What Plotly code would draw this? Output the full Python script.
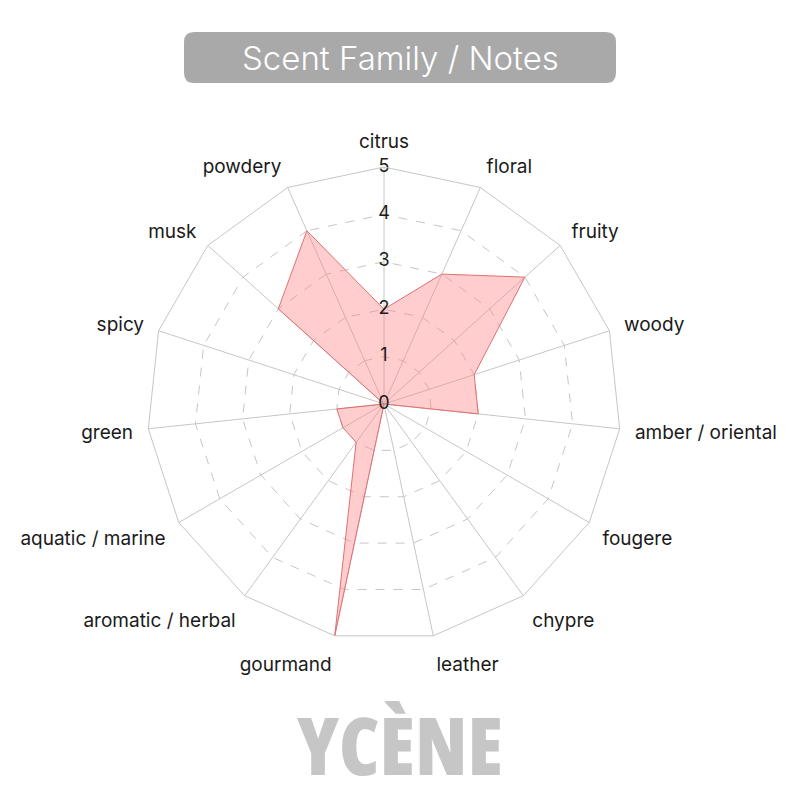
import plotly.graph_objects as go

categories = ["citrus", "floral", "fruity", "woody", "amber / oriental",
              "fougere", "chypre", "leather", "gourmand", "aromatic / herbal",
              "aquatic / marine", "green", "spicy", "musk", "powdery"]
scores = [2, 3, 4, 2, 2, 0, 0, 0, 5, 1, 1, 1, 0, 3, 4]
tick_values = [0, 1, 2, 3, 4, 5]
title_text = "Scent Family / Notes"
brand = "YCÈNE"

FONT = "Inter"
GRID = "#c6c6c6"
DOMAIN = dict(x=[0.17375, 0.76625], y=[0.20875, 0.80125])  # body has an 8px offset

fig = go.Figure()

# filled profile, closed back to the first category
fig.add_trace(go.Scatterpolar(
    r=scores + scores[:1],
    theta=categories + categories[:1],
    mode="lines",
    fill="toself",
    fillcolor="rgba(255, 130, 130, 0.4)",
    line=dict(color="#e07070", width=1),
    hoverinfo="skip",
))

# radial numbers sit right on the citrus spoke (1..5 unclipped so "5" isn't cut)
fig.add_trace(go.Scatterpolar(
    r=tick_values[1:],
    theta=[categories[0]] * len(tick_values[1:]),
    mode="text",
    text=[str(v) for v in tick_values[1:]],
    textposition="middle center",
    textfont=dict(family=FONT, size=18, color="#1a1a1a"),
    cliponaxis=False,
    hoverinfo="skip",
))

# the "0" gets hidden on a subplot with unclipped traces, so it lives on
# an invisible twin polar with the same domain
fig.add_trace(go.Scatterpolar(
    r=tick_values[:1],
    theta=[categories[0]],
    mode="text",
    text=[str(tick_values[0])],
    textposition="middle center",
    textfont=dict(family=FONT, size=18, color="#1a1a1a"),
    cliponaxis=True,
    hoverinfo="skip",
    subplot="polar2",
))

fig.update_layout(
    width=800, height=800,
    margin=dict(l=0, r=0, t=0, b=0),
    paper_bgcolor="white",
    plot_bgcolor="white",
    showlegend=False,
    font=dict(family=FONT, color="#1a1a1a"),
    polar=dict(
        domain=DOMAIN,
        bgcolor="white",
        gridshape="linear",
        radialaxis=dict(
            range=[0, 5],
            tickvals=tick_values,
            showticklabels=False,
            ticks="",
            showline=False,
            gridcolor=GRID,
            griddash="dash",
            gridwidth=1,
        ),
        angularaxis=dict(
            rotation=90,
            direction="clockwise",
            ticks="outside",
            ticklen=11,
            tickcolor="rgba(0,0,0,0)",
            showline=True,
            linecolor=GRID,
            gridcolor=GRID,
            gridwidth=1,
            tickfont=dict(family=FONT, size=19, color="#1a1a1a"),
        ),
    ),
    polar2=dict(
        domain=DOMAIN,
        bgcolor="rgba(0,0,0,0)",
        radialaxis=dict(range=[0, 5], visible=False),
        angularaxis=dict(visible=False, rotation=90, direction="clockwise"),
    ),
)
fig.update_polars(angularaxis_griddash="solid", selector=dict(gridshape="linear"))

# rounded grey title plate
x0, x1, y0, y1, rad = 0.22, 0.76, 0.90625, 0.97, 0.0125
fig.add_shape(
    type="path", xref="paper", yref="paper", layer="below",
    path=(f"M {x0+rad},{y0} L {x1-rad},{y0} Q {x1},{y0} {x1},{y0+rad} "
          f"L {x1},{y1-rad} Q {x1},{y1} {x1-rad},{y1} L {x0+rad},{y1} "
          f"Q {x0},{y1} {x0},{y1-rad} L {x0},{y0+rad} Q {x0},{y0} {x0+rad},{y0} Z"),
    fillcolor="#a9a9a9", line=dict(width=0),
)
fig.add_annotation(
    x=0.49, y=0.9375, xref="paper", yref="paper", showarrow=False,
    xanchor="center", yanchor="middle",
    text=title_text, font=dict(family=FONT, size=33, color="white", weight=300),
)

fig.add_annotation(
    x=0.49, y=0.081, xref="paper", yref="paper", showarrow=False,
    xanchor="center", yanchor="middle",
    text=f'<span style="font-stretch:75%">{brand}</span>',
    font=dict(family="Open Sans", size=80, color="#c6c6c6", weight=800),
)

fig.write_html("out.html")
